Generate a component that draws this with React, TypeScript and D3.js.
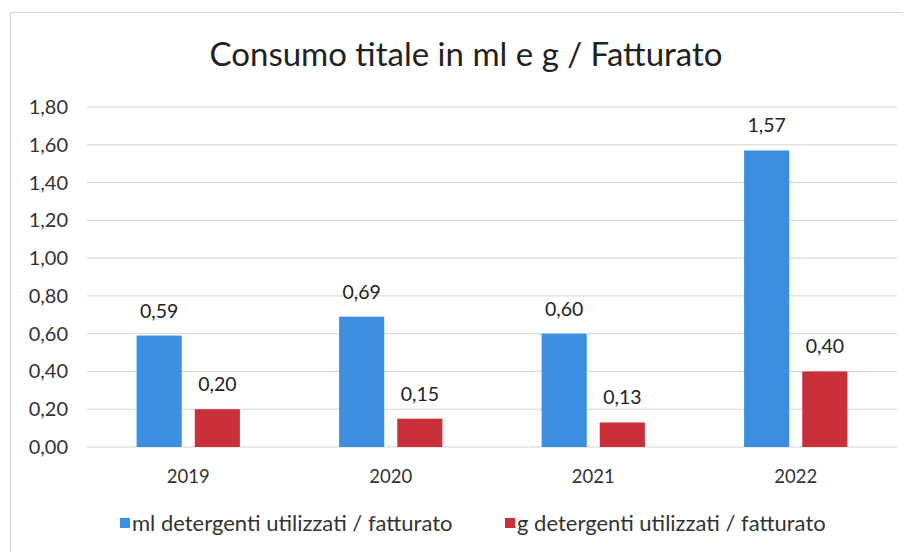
import React, { useEffect, useRef } from 'react'
import * as d3 from 'd3'

const years = ['2019', '2020', '2021', '2022']
const series = ['ml detergenti utilizzati / fatturato', 'g detergenti utilizzati / fatturato']
const mlValues = [0.59, 0.69, 0.6, 1.57]
const gValues = [0.2, 0.15, 0.13, 0.4]
const yTicks = [0, 0.2, 0.4, 0.6, 0.8, 1.0, 1.2, 1.4, 1.6, 1.8]
const colors = ['#3b8ee0', '#c8303a']

const fmt = (v: number) => v.toFixed(2).replace('.', ',')

export default function App() {
  const ref = useRef<SVGSVGElement>(null)

  useEffect(() => {
    const svg = d3.select(ref.current)
    svg.selectAll('*').remove()
    const font = 'Lato, "Open Sans", sans-serif'
    const left = 87, right = 897, top = 107, bottom = 447

    svg.append('rect')
      .attr('x', 10.5).attr('y', 12.5)
      .attr('width', 920).attr('height', 580)
      .attr('fill', '#fff').attr('stroke', '#d6d6d6')

    svg.append('text')
      .attr('x', 466).attr('y', 66)
      .attr('text-anchor', 'middle')
      .style('font-family', font).style('font-size', '33px')
      .attr('fill', '#222')
      .text('Consumo titale in ml e g / Fatturato')

    const x0 = d3.scaleBand().domain(years).range([left, right])
    const x1 = d3.scaleBand().domain(series)
      .range([x0.bandwidth() * 0.245, x0.bandwidth() * 0.755])
      .paddingInner(0.224)
    const y = d3.scaleLinear().domain([0, 1.8]).range([bottom, top])

    // gridlines
    svg.append('g').selectAll('line').data(yTicks).enter().append('line')
      .attr('x1', left).attr('x2', right)
      .attr('y1', d => y(d)).attr('y2', d => y(d))
      .attr('stroke', '#d4d4d4').attr('stroke-width', 1)

    svg.append('g').selectAll('text').data(yTicks).enter().append('text')
      .attr('x', 68).attr('y', d => y(d)).attr('dy', '0.35em')
      .attr('text-anchor', 'end')
      .style('font-family', font).style('font-size', '20px')
      .attr('fill', '#333')
      .text(d => fmt(d))

    const rows = years.map((yr, i) => ({ yr, vals: [mlValues[i], gValues[i]] }))

    const groups = svg.append('g').selectAll('g').data(rows).enter().append('g')
      .attr('transform', d => 'translate(' + x0(d.yr) + ',0)')

    groups.selectAll('rect').data(d => d.vals.map((v, k) => ({ v, k }))).enter().append('rect')
      .attr('x', d => x1(series[d.k])!)
      .attr('width', x1.bandwidth())
      .attr('y', d => y(d.v))
      .attr('height', d => bottom - y(d.v))
      .attr('fill', d => colors[d.k])

    groups.selectAll('text.lbl').data(d => d.vals.map((v, k) => ({ v, k }))).enter().append('text')
      .attr('class', 'lbl')
      .attr('x', d => x1(series[d.k])! + x1.bandwidth() / 2)
      .attr('y', d => y(d.v) - 18)
      .attr('text-anchor', 'middle')
      .style('font-family', font).style('font-size', '19.5px')
      .attr('fill', '#222')
      .text(d => fmt(d.v))

    svg.append('g').selectAll('text').data(years).enter().append('text')
      .attr('x', d => x0(d)! + x0.bandwidth() / 2).attr('y', 483)
      .attr('text-anchor', 'middle')
      .style('font-family', font).style('font-size', '18.5px')
      .attr('fill', '#333')
      .text(d => d)

    // legend
    const lx = [120, 505]
    series.forEach((s, k) => {
      svg.append('rect')
        .attr('x', lx[k]).attr('y', 518).attr('width', 10).attr('height', 10)
        .attr('fill', colors[k])
      svg.append('text')
        .attr('x', lx[k] + 12).attr('y', 523).attr('dy', '0.35em')
        .style('font-family', font).style('font-size', '22px')
        .attr('fill', '#333')
        .text(s)
    })
  }, [])

  return (
    <div style={{ margin: -8 }}>
      <svg ref={ref} width={910} height={556}></svg>
    </div>
  )
}
